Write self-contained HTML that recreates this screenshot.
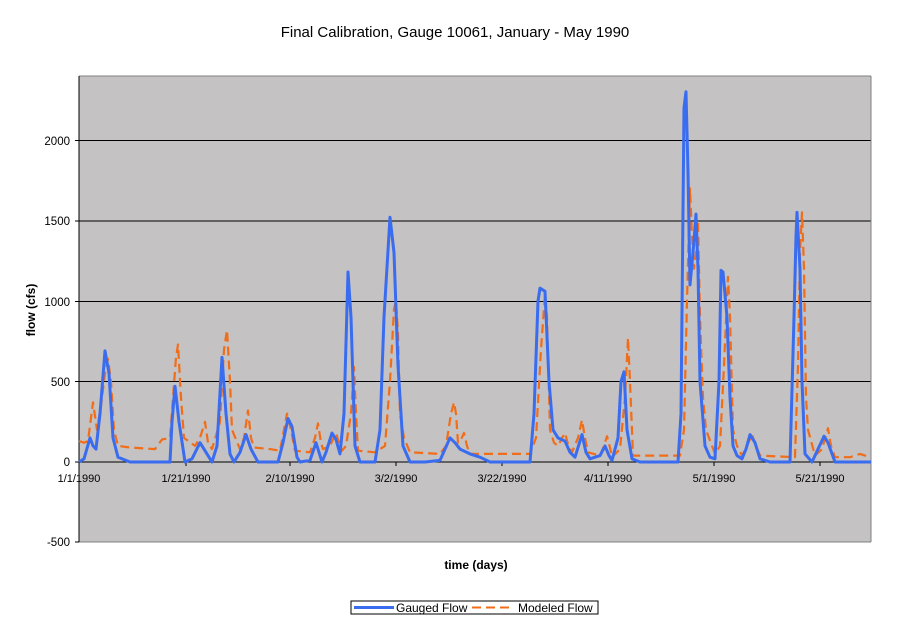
<!DOCTYPE html>
<html><head><meta charset="utf-8"><style>
body{margin:0;background:#fff;}
text{font-family:"Liberation Sans",Arial,sans-serif;fill:#000;}
</style></head><body>
<svg id="s" width="911" height="623" xmlns="http://www.w3.org/2000/svg">
<rect width="911" height="623" fill="#fff"/>
<text x="455" y="37" font-size="15" text-anchor="middle">Final Calibration, Gauge 10061, January - May 1990</text>
<rect x="79" y="76" width="792" height="466" fill="#c4c2c3"/>
<g stroke="#000" stroke-width="1">
<line x1="79" y1="140.5" x2="871" y2="140.5"/>
<line x1="79" y1="221" x2="871" y2="221"/>
<line x1="79" y1="301.5" x2="871" y2="301.5"/>
<line x1="79" y1="381.5" x2="871" y2="381.5"/>
<line x1="79" y1="462" x2="871" y2="462"/>
</g>
<line x1="79" y1="76" x2="871" y2="76" stroke="#808080"/>
<line x1="871" y1="76" x2="871" y2="542" stroke="#808080"/>
<line x1="79" y1="542" x2="871" y2="542" stroke="#808080"/>
<line x1="79" y1="76" x2="79" y2="542" stroke="#000"/>
<g stroke="#000"><line x1="75" y1="140.5" x2="79" y2="140.5"/><line x1="75" y1="221" x2="79" y2="221"/><line x1="75" y1="301.5" x2="79" y2="301.5"/><line x1="75" y1="381.5" x2="79" y2="381.5"/><line x1="75" y1="462" x2="79" y2="462"/><line x1="75" y1="542" x2="79" y2="542"/>
<line x1="79" y1="462" x2="79" y2="466"/><line x1="186" y1="462" x2="186" y2="466"/><line x1="290" y1="462" x2="290" y2="466"/><line x1="396" y1="462" x2="396" y2="466"/><line x1="502" y1="462" x2="502" y2="466"/><line x1="608" y1="462" x2="608" y2="466"/><line x1="714" y1="462" x2="714" y2="466"/><line x1="820" y1="462" x2="820" y2="466"/></g>
<g font-size="11.5" text-anchor="end">
<text x="70" y="145">2000</text><text x="70" y="225">1500</text><text x="70" y="306">1000</text><text x="70" y="386">500</text><text x="70" y="466">0</text><text x="70" y="546">-500</text></g>
<g font-size="11" text-anchor="middle">
<text x="79" y="482">1/1/1990</text><text x="186" y="482">1/21/1990</text><text x="290" y="482">2/10/1990</text><text x="396" y="482">3/2/1990</text><text x="502" y="482">3/22/1990</text><text x="608" y="482">4/11/1990</text><text x="714" y="482">5/1/1990</text><text x="820" y="482">5/21/1990</text></g>
<text x="476" y="569" font-size="12" font-weight="bold" text-anchor="middle">time (days)</text>
<text transform="translate(35,310) rotate(-90)" font-size="12" font-weight="bold" text-anchor="middle">flow (cfs)</text>
<polyline id="m" fill="none" stroke="#f26d18" stroke-width="2.2" stroke-dasharray="9,5" stroke-linejoin="round"/>
<polyline id="g" fill="none" stroke="#3a6cf0" stroke-width="3" stroke-linejoin="round"/>
<rect x="351" y="601" width="247" height="13" fill="#fff" stroke="#000"/>
<line x1="354" y1="607.5" x2="394" y2="607.5" stroke="#3a6cf0" stroke-width="3"/>
<text x="396" y="612" font-size="12">Gauged Flow</text>
<line x1="472" y1="607.5" x2="512" y2="607.5" stroke="#f26d18" stroke-width="2" stroke-dasharray="9,5"/>
<text x="518" y="612" font-size="12">Modeled Flow</text>
</svg>
<script>
function pts(a){var r=[];for(var i=0;i<a.length;i+=2)r.push(a[i]+","+(462-a[i+1]*0.161).toFixed(1));return r.join(" ");}
var g=[79,0,84,20,90,150,93,100,96,80,100,300,105,690,109,550,113,150,118,30,130,0,170,0,172,250,175,470,179,250,185,0,192,20,200,120,206,60,212,0,217,100,222,650,226,300,230,50,234,0,240,60,246,170,251,80,258,0,278,0,283,120,288,270,292,220,297,30,300,0,310,10,316,120,320,40,322,0,326,60,332,180,336,140,340,50,344,300,348,1180,351,900,355,100,360,0,375,0,380,200,384,900,390,1520,394,1300,398,600,403,100,410,0,425,0,440,10,450,150,455,120,460,80,470,50,480,30,490,0,530,0,534,300,538,1000,540,1080,545,1060,549,500,553,200,558,150,565,130,570,60,575,30,582,170,586,60,590,20,600,40,605,100,609,40,612,10,618,150,621,500,624,560,627,200,632,20,640,0,678,0,681,300,684,2200,686,2300,688,1800,690,1100,693,1300,696,1540,698,1200,700,500,705,100,710,30,715,20,719,500,721,1190,723,1180,727,900,730,400,733,100,737,40,742,20,746,80,750,170,755,120,760,20,770,0,790,0,794,900,796,1400,797,1550,800,1200,802,500,805,50,812,0,818,80,824,160,828,120,835,0,850,0,871,0];
var m=[79,130,84,120,88,130,93,370,97,200,101,350,105,550,108,640,111,500,114,200,118,100,130,90,155,80,162,140,170,150,173,400,176,650,178,730,181,400,184,150,195,100,200,150,205,250,208,120,212,80,220,250,224,700,227,820,230,500,232,200,240,80,244,150,248,320,251,150,254,90,270,80,280,70,287,300,291,200,295,70,310,60,315,150,318,240,321,120,323,80,330,100,336,180,339,120,342,70,346,100,351,300,354,590,356,300,358,70,375,60,385,100,390,500,394,950,396,1000,398,800,400,300,404,150,410,60,440,50,446,100,451,300,454,370,456,300,458,120,461,140,464,180,467,100,470,50,530,50,536,150,541,700,545,1040,547,900,550,200,554,120,558,100,562,150,565,180,568,110,572,60,578,150,582,260,585,150,588,60,600,40,604,100,607,160,610,90,612,30,620,80,625,400,628,770,630,500,633,40,680,40,684,200,687,1000,690,1700,692,1400,694,1200,696,1300,698,1500,700,900,703,400,706,200,715,50,720,100,724,600,728,1150,730,900,733,200,737,100,742,40,747,100,752,170,756,100,760,40,795,30,798,600,800,1300,802,1550,804,1200,806,400,808,200,815,40,822,80,828,210,831,100,835,30,850,30,855,40,860,50,865,40,871,30];
document.getElementById("g").setAttribute("points",pts(g));
document.getElementById("m").setAttribute("points",pts(m));
</script>
</body></html>
